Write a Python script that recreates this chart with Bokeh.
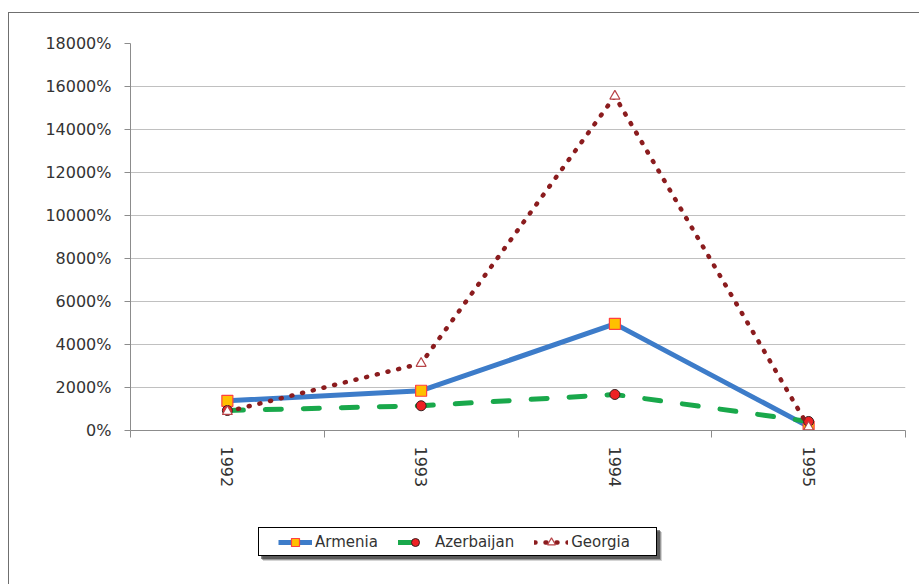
import math
from bokeh.plotting import figure
from bokeh.layouts import column
from bokeh.models import (Range1d, FixedTicker, PrintfTickFormatter, Legend, LegendItem,
                          ColumnDataSource)
from bokeh.embed import file_html
from bokeh.resources import INLINE

# Annual inflation, percent
years = ["1992", "1993", "1994", "1995"]
armenia = [1380, 1850, 4960, 180]
azerbaijan = [930, 1150, 1675, 420]
georgia = [880, 3120, 15550, 160]
y_ticks = [0, 2000, 4000, 6000, 8000, 10000, 12000, 14000, 16000, 18000]

xs = [i for i, _ in enumerate(years, start=1)]
src = ColumnDataSource(dict(x=xs, armenia=armenia, azerbaijan=azerbaijan, georgia=georgia))

FONT = "DejaVu Sans"
TEXT = "#333333"
AXIS = "#8c8c8c"

# line / marker styles per series
series = [
    ("Armenia", "armenia",
     dict(line_color="#3d7cc9", line_width=5),
     dict(marker="square", size=11, fill_color="#ffc000", line_color="#ff4040", line_width=1.2)),
    ("Azerbaijan", "azerbaijan",
     dict(line_color="#19a84b", line_width=5, line_dash="16 22", line_cap="round"),
     dict(marker="circle", size=10, fill_color="#ee2024", line_color="#3a2020", line_width=1)),
    ("Georgia", "georgia",
     dict(line_color="#8b1c1e", line_width=4.5, line_dash="1 10", line_cap="round"),
     dict(marker="triangle", size=10, fill_color="white", line_color="#b84448", line_width=1.2)),
]

p = figure(width=919, height=500, output_backend="svg", toolbar_location=None,
           x_range=Range1d(0.5, len(years) + 0.5), y_range=Range1d(0, y_ticks[-1]),
           min_border_left=130, min_border_right=14, min_border_top=43, min_border_bottom=70)
p.outline_line_color = None
p.background_fill_color = "white"
p.border_fill_alpha = 0

# x axis: labels at category centres, ticks on the boundaries
xa = p.xaxis[0]
xa.ticker = FixedTicker(ticks=xs, minor_ticks=[x - 0.5 for x in xs] + [xs[-1] + 0.5])
xa.major_label_overrides = {x: y for x, y in zip(xs, years)}
xa.major_tick_out = 0
xa.major_tick_in = 0
xa.minor_tick_out = 7
xa.minor_tick_in = 0
xa.minor_tick_line_color = AXIS
xa.axis_line_color = AXIS
xa.major_label_orientation = -math.pi / 2
xa.major_label_standoff = 9
xa.major_label_text_font = FONT
xa.major_label_text_font_size = "16px"
xa.major_label_text_color = TEXT

ya = p.yaxis[0]
ya.ticker = FixedTicker(ticks=y_ticks)
ya.formatter = PrintfTickFormatter(format="%d%%")
ya.major_tick_out = 6
ya.major_tick_in = 0
ya.minor_tick_line_color = None
ya.major_tick_line_color = AXIS
ya.axis_line_color = AXIS
ya.major_label_standoff = 13
ya.major_label_text_font = FONT
ya.major_label_text_font_size = "16px"
ya.major_label_text_color = TEXT

p.xgrid.visible = False
p.ygrid.grid_line_color = "#c0c0c0"
p.ygrid.ticker = FixedTicker(ticks=y_ticks)

for name, col, lstyle, mstyle in series:
    p.line("x", col, source=src, **lstyle)
    p.scatter("x", col, source=src, **mstyle)

# legend strip underneath the chart; its ranges keep the series themselves out of view
lg = figure(width=919, height=84, output_backend="svg", toolbar_location=None,
            x_axis_type=None, y_axis_type=None, min_border=0,
            x_range=Range1d(-20, -10), y_range=Range1d(-20, -10))
lg.outline_line_color = None
lg.background_fill_alpha = 0
lg.border_fill_alpha = 0
lg.xgrid.visible = False
lg.ygrid.visible = False

items = []
for name, col, lstyle, mstyle in series:
    r1 = lg.line("x", col, source=src, **lstyle)
    r2 = lg.scatter("x", col, source=src, **mstyle)
    items.append(LegendItem(label=name, renderers=[r1, r2]))

legend = Legend(items=items, orientation="horizontal", location=(148, 32.5),
                padding=0, margin=0, spacing=20, glyph_width=34, glyph_height=20,
                label_standoff=3, border_line_color=None, background_fill_alpha=0,
                label_text_font=FONT, label_text_font_size="15px", label_text_color=TEXT)
lg.add_layout(legend, "center")


def box(color, x, y, w, h):
    return f"linear-gradient({color},{color}) {x}px {y}px / {w}px {h}px no-repeat"


# page background: chart border (top/left edges), legend frame and its drop shadow
layers = [
    box("#ffffff", 259, 528, 397, 27),          # legend fill
    box("#000000", 258, 527, 399, 29),          # legend frame
    box("rgba(40,40,40,0.55)", 261, 530, 399, 29),
    box("rgba(40,40,40,0.35)", 262, 531, 399, 29),
    box("rgba(40,40,40,0.2)", 263, 532, 399, 29),
    box("#6f6f6f", 8, 12, 2000, 1),             # chart border, top
    box("#6f6f6f", 8, 12, 1, 2000),             # chart border, left
]

page = column(p, lg, spacing=0)
page.styles = {"background": ", ".join(layers) + ", #ffffff"}

open("out.html", "w").write(file_html(page, INLINE))
